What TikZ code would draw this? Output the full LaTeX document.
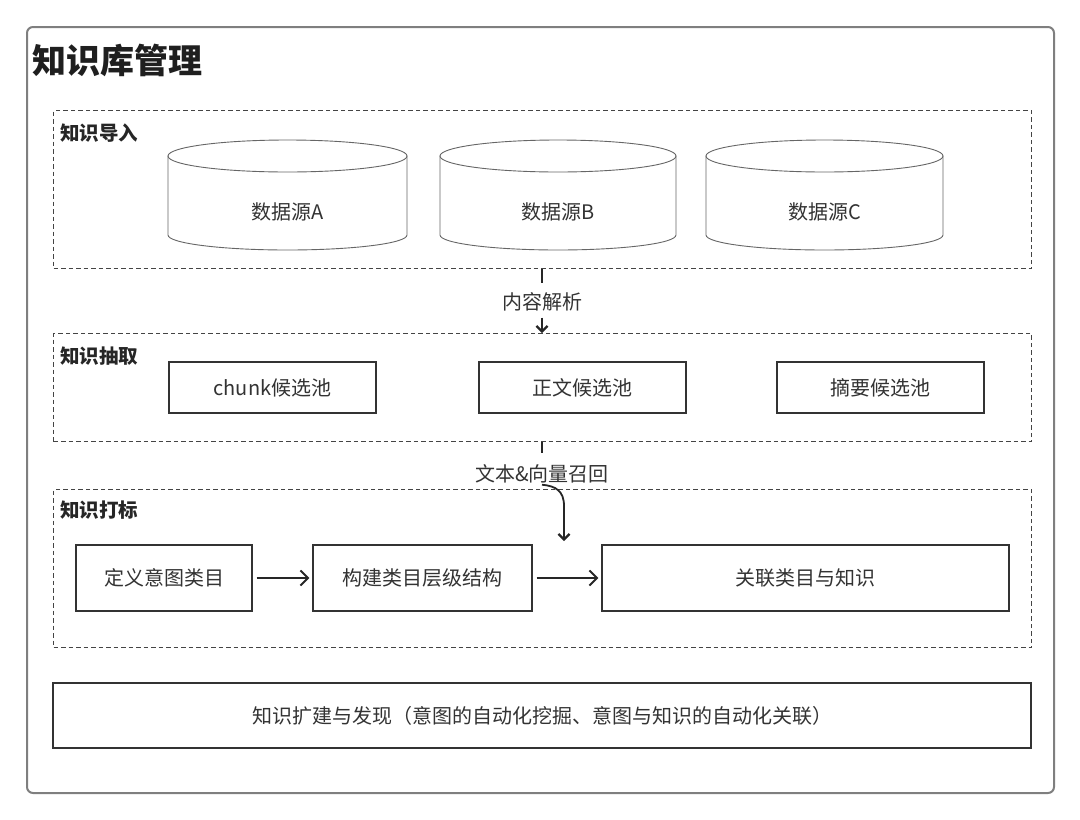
\documentclass[tikz,border=0pt]{standalone}
\usepackage{fontspec}
\setmainfont{Noto Sans CJK SC}
\usetikzlibrary{arrows.meta}
\definecolor{txt}{HTML}{333333}
\definecolor{boxc}{HTML}{333333}
\definecolor{dashc}{HTML}{444444}
\definecolor{cylc}{HTML}{666666}
\definecolor{outc}{HTML}{7F7F7F}
\begin{document}
\begin{tikzpicture}[x=1pt,y=-1pt,
  sect/.style={draw=dashc, line width=1.1pt, dash pattern=on 4.5pt off 3pt, inner sep=0pt, anchor=north west},
  seclab/.style={anchor=west, inner sep=0pt, text=black!85, font=\fontsize{19.5}{22}\selectfont\bfseries},
  box/.style={draw=boxc, line width=1.3pt, fill=white, text=txt, inner sep=0pt, font=\fontsize{20}{23}\selectfont},
  cyllab/.style={inner sep=0pt, text=txt, font=\fontsize{20}{23}\selectfont},
  flowlab/.style={inner sep=0pt, text=txt, text height=16pt, text depth=3pt, font=\fontsize{20}{23}\selectfont},
  cyl/.style={draw=cylc, line width=0.9pt, fill=white},
  arr/.style={draw=black!85, line width=1.7pt, -{Straight Barb[length=7.5pt,width=15pt,line width=2pt]}},
  varr/.style={draw=black!85, line width=1.8pt, -{Straight Barb[length=5.5pt,width=11pt,line width=2.2pt]}},
  tick/.style={draw=black!85, line width=2pt}
]
\useasboundingbox (0,0) rectangle (1080,820);
% outer frame
\node[draw=outc, line width=2pt, rounded corners=6pt, inner sep=0pt, minimum width=1027pt, minimum height=766pt, anchor=north west] (frame) at (26,26) {};
\node[anchor=west, inner sep=0pt, text=black!88, font=\fontsize{34}{38}\selectfont\bfseries] (title) at (32,60) {知识库管理};

% sections
\node[sect, minimum width=978pt, minimum height=158pt] (s1) at (53,110) {};
\node[seclab] (t1) at (60,133) {知识导入};
\node[sect, minimum width=978pt, minimum height=108pt] (s2) at (53,333) {};
\node[seclab] (t2) at (60,356) {知识抽取};
\node[sect, minimum width=978pt, minimum height=158pt] (s3) at (53,489) {};
\node[seclab] (t3) at (60,510) {知识打标};

% cylinders
\foreach \cx/\rx/\nm/\lab in {287.5/119.5/ca/数据源A, 558/118/cb/数据源B, 824.5/118.5/cc/数据源C}{
  \path[cyl] (\cx-\rx,156) -- (\cx-\rx,235) arc[start angle=180, end angle=360, x radius=\rx pt, y radius=15pt] -- (\cx+\rx,156) -- cycle;
  \path[cyl] (\cx,156) ellipse[x radius=\rx pt, y radius=16pt];
  \node[cyllab] (\nm) at (\cx,212) {\lab};
}

% extraction boxes
\node[box, minimum width=207pt, minimum height=51pt] (b1) at (272.5,387.5) {chunk候选池};
\node[box, minimum width=207pt, minimum height=51pt] (b2) at (582.5,387.5) {正文候选池};
\node[box, minimum width=207pt, minimum height=51pt] (b3) at (880.5,387.5) {摘要候选池};

% tagging boxes
\node[box, minimum width=176pt, minimum height=66pt] (d1) at (164,578) {定义意图类目};
\node[box, minimum width=219pt, minimum height=66pt] (d2) at (422.5,578) {构建类目层级结构};
\node[box, minimum width=407pt, minimum height=66pt] (d3) at (805.5,578) {关联类目与知识};

\draw[arr, shorten <=4pt, shorten >=3pt] (d1) -- (d2);
\draw[arr, shorten <=4pt, shorten >=3pt] (d2) -- (d3);

% bottom box
\node[box, minimum width=978pt, minimum height=65pt] (e) at (542,715.5) {知识扩建与发现（意图的自动化挖掘、意图与知识的自动化关联）};

% flow labels between sections
\node[flowlab] (l1) at (542,303) {内容解析};
\draw[tick, shorten >=10pt] (s1.south -| l1) -- (l1.north);
\draw[varr, shorten <=5pt] (l1.south) -- (s2.north -| l1);

\node[flowlab] (l2) at (542,475) {文本\&向量召回};
\coordinate (tgt) at (564,541);
\draw[tick, shorten >=12pt] (s2.south -| l2) -- (l2.north);
\draw[varr] (l2.south) .. controls (556,486) and (564,491) .. (564,506) -- (tgt);
\end{tikzpicture}
\end{document}
